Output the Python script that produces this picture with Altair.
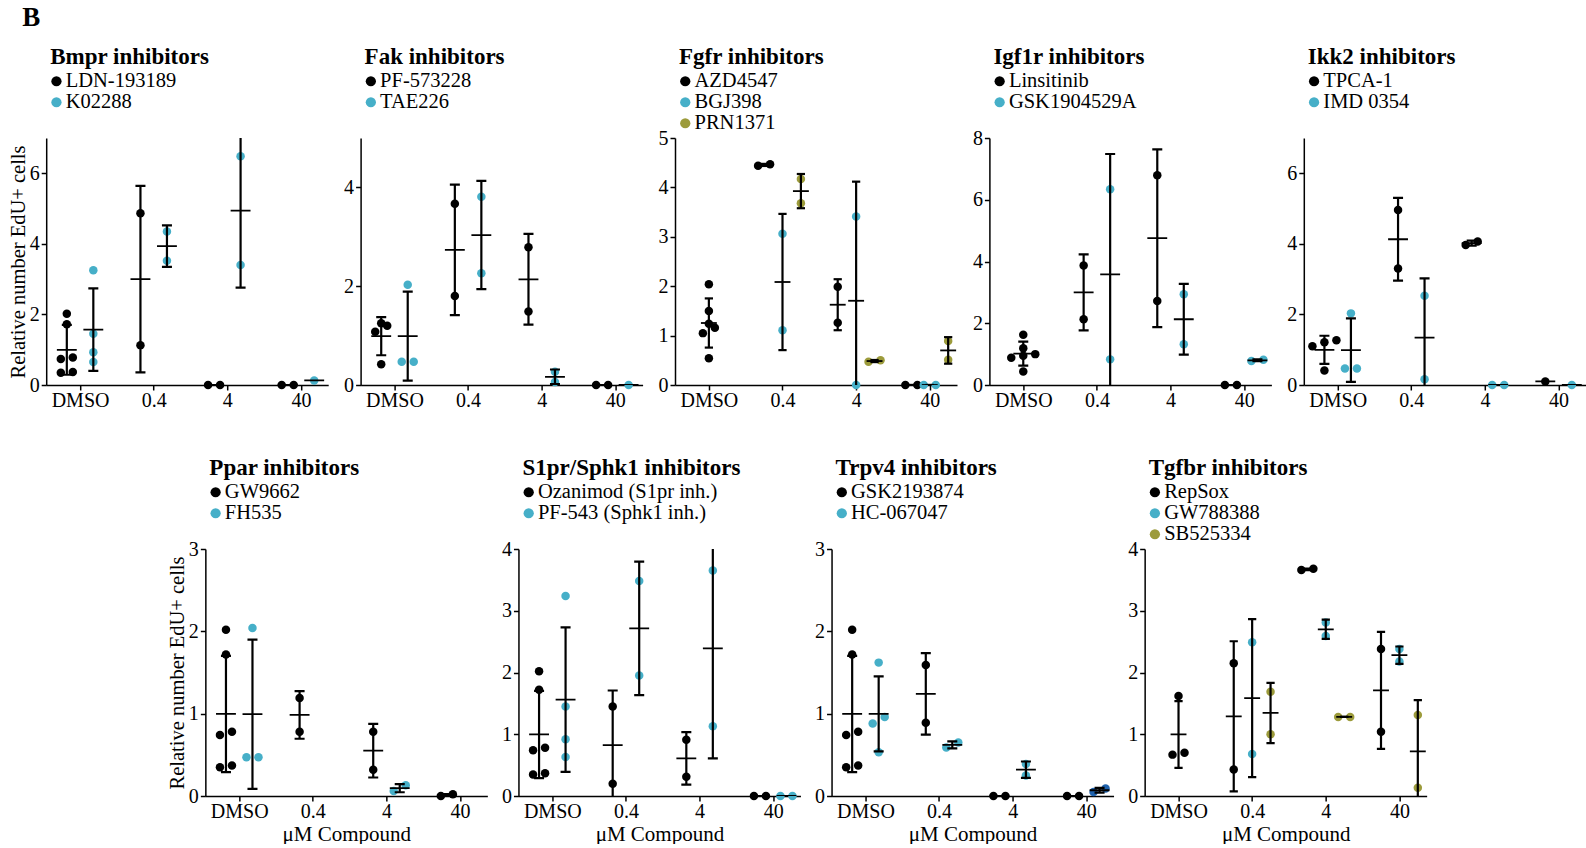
import altair as alt
import numpy as np
import pandas as pd

FONT = "Liberation Serif"

# x categories (µM compound)
CATS = ["DMSO", "0.4", "4", "40"]

# Relative number of EdU+ cells, per concentration: [DMSO, 0.4, 4, 40]
LDN_193189 = [[2.02, 1.72, 0.74, 0.78, 0.35, 0.37], [4.87, 1.13], [0.0, 0.0], [0.0, 0.0]]
K02288 = [[3.25, 1.45, 0.93, 0.65], [4.35, 3.52], [6.48, 3.40], [0.13]]

PF_573228 = [[1.25, 1.20, 1.08, 0.42], [3.67, 1.80], [2.79, 1.49], [0.0, 0.0]]
TAE226 = [[2.03, 0.47, 0.47], [3.81, 2.26], [0.27, 0.06], [0.0]]

AZD4547 = [[2.04, 1.50, 1.24, 1.16, 1.05, 0.54], [4.44, 4.47], [1.99, 1.26], [0.0, 0.0]]
BGJ398 = [[], [3.06, 1.11], [3.41, 0.0], [0.0, 0.0]]
PRN1371 = [[], [4.17, 3.68], [0.47, 0.50], [0.89, 0.51]]

LINSITINIB = [[1.63, 1.19, 1.00, 0.95, 0.88, 0.44], [3.87, 2.13], [6.79, 2.72], [0.0, 0.0]]
GSK1904529A = [[], [6.34, 0.83], [2.94, 1.32], [0.78, 0.82]]

TPCA_1 = [[1.27, 1.21, 1.10, 0.41], [4.96, 3.30], [3.97, 4.07], [0.10]]
IMD_0354 = [[2.03, 0.47, 0.47], [2.53, 0.16], [0.0, 0.0], [0.0]]

GW9662 = [[2.02, 1.72, 0.74, 0.78, 0.35, 0.37], [1.19, 0.78], [0.78, 0.32], [0.0, 0.02]]
FH535 = [[2.04, 0.47, 0.47], [], [0.06, 0.13], []]

OZANIMOD = [[2.02, 1.72, 0.74, 0.78, 0.35, 0.37], [1.45, 0.20], [0.91, 0.31], [0.0, 0.0]]
PF_543 = [[3.24, 1.45, 0.92, 0.63], [3.48, 1.95], [3.65, 1.13], [0.0, 0.0]]

GSK2193874 = [[2.02, 1.72, 0.74, 0.78, 0.35, 0.37], [1.59, 0.89], [0.0, 0.0], [0.0, 0.0]]
HC_067047 = [[1.62, 0.96, 0.88, 0.53], [0.59, 0.65], [0.39, 0.25], [0.05, 0.09]]

REPSOX = [[1.62, 0.67, 0.70], [2.15, 0.43], [3.66, 3.68], [2.38, 1.04]]
GW788388 = [[], [2.49, 0.68], [2.81, 2.59], [2.38, 2.18]]
SB525334 = [[], [1.69, 1.00], [1.28, 1.28], [1.31, 0.135]]

BLACK, TEAL, OLIVE, NAVY = "#000000", "#46afc8", "#9c9b3b", "#1f62ad"
Y_TITLE = "Relative number EdU+ cells"
X_TITLE = "μM Compound"

PANELS_TOP = [
    dict(title="Bmpr inhibitors", ymax=7, ystep=2,
         series=[("LDN-193189", LDN_193189, BLACK), ("K02288", K02288, TEAL)]),
    dict(title="Fak inhibitors", ymax=5, ystep=2,
         series=[("PF-573228", PF_573228, BLACK), ("TAE226", TAE226, TEAL)]),
    dict(title="Fgfr inhibitors", ymax=5, ystep=1,
         series=[("AZD4547", AZD4547, BLACK), ("BGJ398", BGJ398, TEAL), ("PRN1371", PRN1371, OLIVE)]),
    dict(title="Igf1r inhibitors", ymax=8, ystep=2,
         series=[("Linsitinib", LINSITINIB, BLACK), ("GSK1904529A", GSK1904529A, TEAL)]),
    dict(title="Ikk2 inhibitors", ymax=7, ystep=2,
         series=[("TPCA-1", TPCA_1, BLACK), ("IMD 0354", IMD_0354, TEAL)]),
]
PANELS_BOTTOM = [
    dict(title="Ppar inhibitors", ymax=3, ystep=1,
         series=[("GW9662", GW9662, BLACK), ("FH535", FH535, TEAL)]),
    dict(title="S1pr/Sphk1 inhibitors", ymax=4, ystep=1,
         series=[("Ozanimod (S1pr inh.)", OZANIMOD, BLACK), ("PF-543 (Sphk1 inh.)", PF_543, TEAL)]),
    dict(title="Trpv4 inhibitors", ymax=3, ystep=1,
         series=[("GSK2193874", GSK2193874, BLACK), ("HC-067047", HC_067047, TEAL)],
         recolor={("HC-067047", "40"): NAVY}),
    dict(title="Tgfbr inhibitors", ymax=4, ystep=1,
         series=[("RepSox", REPSOX, BLACK), ("GW788388", GW788388, TEAL), ("SB525334", SB525334, OLIVE)]),
]

PLOT_W, PLOT_H = 282, 247
X_DOMAIN = [-0.46, 3.37]
DOT_PX = 8.0       # vertical closeness that puts dots side by side
PAIR_PX = 12.0     # horizontal distance between side-by-side dots
DODGE = {2: [-0.18, 0.18], 3: [-0.25, 0.0, 0.25]}
MEAN_HALF = {2: 0.135, 3: 0.108}
CAP_HALF = {2: 0.068, 3: 0.056}


def panel_frames(p):
    ns = len(p["series"])
    px_x = PLOT_W / (X_DOMAIN[1] - X_DOMAIN[0])
    px_y = PLOT_H / p["ymax"]
    recolor = p.get("recolor", {})
    pts, stats, caps = [], [], []
    keys, colors = [], []
    for name, _, color in p["series"]:
        keys.append(name)
        colors.append(color)
    for (nm, cat), col in recolor.items():
        keys.append(nm + " " + cat)
        colors.append(col)
    for ci, cat in enumerate(CATS):
        present = [k for k, s in enumerate(p["series"]) if len(s[1][ci]) > 0]
        for k, (name, vals, color) in enumerate(p["series"]):
            v = vals[ci]
            if not v:
                continue
            center = ci + (0.0 if (ci == 0 and len(present) == 1) else DODGE[ns][k])
            key = name + " " + cat if (name, cat) in recolor else name
            rows = []
            for val in sorted(v):
                if rows and (val - rows[-1][0]) * px_y < DOT_PX:
                    rows[-1].append(val)
                else:
                    rows.append([val])
            for row in rows:
                n = len(row)
                for i, val in enumerate(row):
                    off = (i - (n - 1) / 2) * PAIR_PX / px_x
                    pts.append(dict(x=center + off, y=val, key=key))
            m = float(np.mean(v))
            stats.append(dict(xm1=center - MEAN_HALF[ns], xm2=center + MEAN_HALF[ns], xc=center, m=m))
            if len(v) > 1:
                sd = float(np.std(v, ddof=1))
                stats[-1].update(lo=m - sd, hi=m + sd)
                for yv in (m - sd, m + sd):
                    caps.append(dict(xc1=center - CAP_HALF[ns], xc2=center + CAP_HALF[ns], yc=yv))
    st = pd.DataFrame(stats)
    return pd.DataFrame(pts), st, pd.DataFrame(caps), keys, colors


def make_panel(p, first, bottom):
    pts, st, caps, keys, colors = panel_frames(p)
    xscale = alt.Scale(domain=X_DOMAIN, nice=False, zero=False)
    yscale = alt.Scale(domain=[0, p["ymax"]], nice=False)
    xaxis = alt.Axis(values=[0, 1, 2, 3], labelExpr="['DMSO','0.4','4','40'][datum.value]",
                     title=X_TITLE if bottom else None, labelPadding=0, titlePadding=2,
                     titleFontSize=21)
    yaxis = alt.Axis(values=list(range(0, p["ymax"] + 1, p["ystep"])),
                     title=Y_TITLE if first else None, labelPadding=2, titlePadding=1,
                     titleFontSize=20.5)

    def X(f):
        return alt.X(f, type="quantitative", scale=xscale, axis=xaxis)

    def Y(f):
        return alt.Y(f, type="quantitative", scale=yscale, axis=yaxis)

    legend = alt.Legend(
        title=p["title"], values=[s[0] for s in p["series"]], orient="none",
        legendX=4, legendY=-92, direction="vertical", padding=0,
        titleFont=FONT, titleFontSize=23, titleFontWeight="bold", titleColor="#000",
        titlePadding=2, titleLimit=500, labelFont=FONT, labelFontSize=20.5, labelColor="#000",
        labelLimit=500, labelOffset={"expr": "-1"}, symbolOffset={"expr": "-4"},
        symbolType="circle", symbolSize=105, symbolStrokeWidth=0, rowPadding=-2.5,
    )
    points = alt.Chart(pts).mark_circle(size=72, opacity=1).encode(
        x=X("x"), y=Y("y"),
        color=alt.Color("key:N", scale=alt.Scale(domain=keys, range=colors), legend=legend),
    )
    mean = alt.Chart(st).mark_rule(color="#000", strokeWidth=1.8, clip=True).encode(
        x=X("xm1"), x2="xm2", y=Y("m"))
    layers = [points, mean]
    if "lo" in st.columns:
        sdv = alt.Chart(st.dropna(subset=["lo"])).mark_rule(color="#000", strokeWidth=2.2, clip=True).encode(
            x=X("xc"), y=Y("lo"), y2="hi")
        cap = alt.Chart(caps).mark_rule(color="#000", strokeWidth=2.2, clip=True).encode(
            x=X("xc1"), x2="xc2", y=Y("yc"))
        layers += [sdv, cap]
    return alt.layer(*layers).properties(width=PLOT_W, height=PLOT_H)


top = alt.hconcat(*[make_panel(p, i == 0, False) for i, p in enumerate(PANELS_TOP)],
                  spacing=32.4, bounds="flush").resolve_scale(color="independent").resolve_legend(color="independent")
bot = alt.hconcat(*[make_panel(p, i == 0, True) for i, p in enumerate(PANELS_BOTTOM)],
                  spacing=31.1, bounds="flush").resolve_scale(color="independent").resolve_legend(color="independent")

chart = alt.vconcat(top, bot, spacing=47, center=True).resolve_scale(
    color="independent").resolve_legend(color="independent").properties(
    title=alt.TitleParams("B", anchor="start", font=FONT, fontSize=27, fontWeight="bold",
                          color="#000", dx=14, offset=14),
    padding={"left": 8, "top": 4, "right": 0, "bottom": 0},
).configure_view(stroke=None).configure_axis(
    labelFont=FONT, labelFontSize=20, labelColor="#000", domainColor="#000", domainWidth=1.5,
    tickColor="#000", tickWidth=1.5, tickSize=5, grid=False, titleFont=FONT, titleFontSize=20,
    titleFontWeight="normal", titleColor="#000",
)

chart.save("out.html", embed_options={"renderer": "svg", "actions": False})
